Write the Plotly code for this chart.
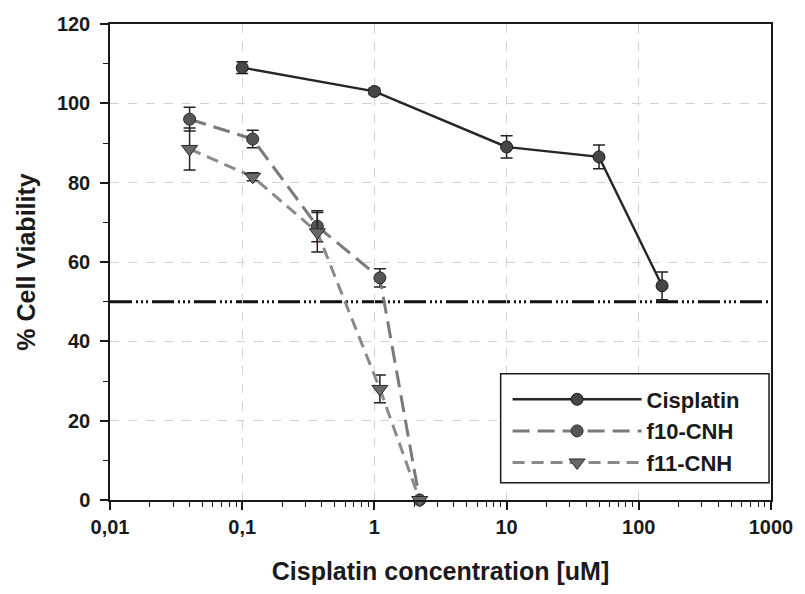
import plotly.graph_objects as go

# Concentrations (uM) and mean % cell viability with error (SD)
cis_conc = [0.1, 1, 10, 50, 150]
cis_viab = [109, 103, 89, 86.5, 54]
cis_err = [1.5, 0.8, 2.8, 3.0, 3.5]

f10_conc = [0.04, 0.12, 0.37, 1.1, 2.2]
f10_viab = [96, 91, 69, 56, 0]
f10_err = [3.0, 2.2, 3.9, 2.3, 0]

f11_conc = [0.04, 0.12, 0.37, 1.1, 2.2]
f11_viab = [88.5, 81.5, 67.5, 28, 0]
f11_err = [5.3, 1.0, 5.0, 3.5, 0]

ic50_level = 50

x_tickvals = [0.01, 0.1, 1, 10, 100, 1000]
x_ticktext = ["0,01", "0,1", "1", "10", "100", "1000"]
x_minor = [m * 10 ** k for k in range(-2, 3) for m in range(2, 10)]
y_tickvals = [0, 20, 40, 60, 80, 100, 120]

FONT = "Liberation Sans, Arial, sans-serif"
ERR_COLOR = "#2a1e1e"

fig = go.Figure()

fig.add_trace(go.Scatter(
    x=cis_conc, y=cis_viab, name="Cisplatin", mode="lines+markers",
    line=dict(color="#262626", width=2.4),
    marker=dict(symbol="circle", size=12, color="#454545",
                line=dict(color="#1a1a1a", width=1)),
    error_y=dict(type="data", array=cis_err, color=ERR_COLOR,
                 thickness=1.5, width=6),
    cliponaxis=False,
))

fig.add_trace(go.Scatter(
    x=f10_conc, y=f10_viab, name="f10-CNH", mode="lines+markers",
    line=dict(color="#7a7a7a", width=3, dash="17px,8px"),
    marker=dict(symbol="circle", size=12, color="#555555",
                line=dict(color="#2a2a2a", width=1)),
    error_y=dict(type="data", array=f10_err, color=ERR_COLOR,
                 thickness=1.5, width=6),
    cliponaxis=False,
))

fig.add_trace(go.Scatter(
    x=f11_conc, y=f11_viab, name="f11-CNH", mode="lines+markers",
    line=dict(color="#8a8a8a", width=3, dash="12px,7px"),
    marker=dict(symbol="triangle-down", size=14, color="#686868",
                line=dict(color="#2a2a2a", width=1)),
    error_y=dict(type="data", array=f11_err, color=ERR_COLOR,
                 thickness=1.5, width=6),
    cliponaxis=False,
))

# 50 % viability reference line
fig.add_shape(
    type="line", xref="paper", x0=0, x1=1, yref="y", y0=ic50_level, y1=ic50_level,
    line=dict(color="#111111", width=3,
              dash="22px,4px,2px,3px,2px,3px,2px,4px"),
    layer="below",
)

# framed box behind the legend entries
fig.add_shape(
    type="rect", xref="paper", yref="paper",
    x0=0.591, x1=0.997, y0=0.036, y1=0.265,
    line=dict(color="#1a1a1a", width=1.5), fillcolor="white",
    layer="above",
)

fig.update_xaxes(
    type="log", range=[-2, 3],
    tickvals=x_tickvals, ticktext=x_ticktext,
    ticks="outside", ticklen=8, tickwidth=1.5, tickcolor="#1a1a1a",
    showline=True, linecolor="#1a1a1a", linewidth=1.5, mirror=True,
    showgrid=True, gridcolor="#d2d2d2", griddash="dash", gridwidth=1,
    minor=dict(tickvals=x_minor, ticks="outside", ticklen=5,
               tickwidth=1.2, tickcolor="#1a1a1a", showgrid=False),
    tickfont=dict(family=FONT, size=20, color="#1a1a1a", weight="bold"),
    title=dict(text="Cisplatin concentration [uM]", standoff=26,
               font=dict(family=FONT, size=25, color="#1a1a1a", weight="bold")),
    zeroline=False,
)

fig.update_yaxes(
    range=[0, 120], tickvals=y_tickvals,
    ticks="outside", ticklen=8, tickwidth=1.5, tickcolor="#1a1a1a",
    showline=True, linecolor="#1a1a1a", linewidth=1.5, mirror=True,
    showgrid=True, gridcolor="#d2d2d2", griddash="dash", gridwidth=1,
    minor=dict(dtick=10, ticks="outside", ticklen=5, tickwidth=1.2,
               tickcolor="#1a1a1a", showgrid=False),
    tickfont=dict(family=FONT, size=20, color="#1a1a1a", weight="bold"),
    ticklabelstandoff=6,
    title=dict(text="% Cell Viability", standoff=14,
               font=dict(family=FONT, size=25, color="#1a1a1a", weight="bold")),
    zeroline=False,
)

fig.update_layout(
    width=805, height=594,
    margin=dict(l=110, r=30, t=24, b=94),
    paper_bgcolor="white", plot_bgcolor="white",
    showlegend=True,
    legend=dict(
        x=0.6015, y=0.145, xanchor="left", yanchor="middle",
        bgcolor="rgba(0,0,0,0)", borderwidth=0,
        font=dict(family=FONT, size=22, color="#1a1a1a", weight="bold"),
        itemwidth=129, tracegroupgap=0,
    ),
)

fig.write_html("out.html")
